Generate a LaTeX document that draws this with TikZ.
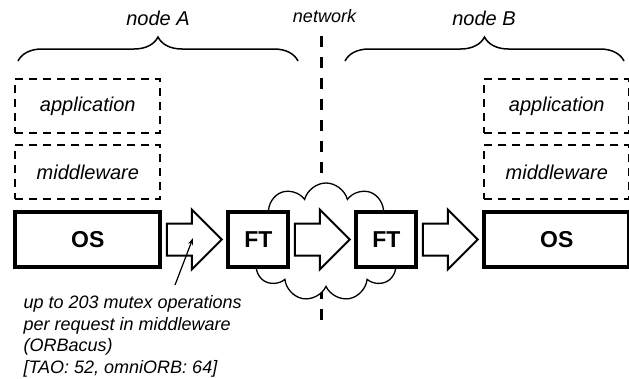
\documentclass[tikz,border=0pt]{standalone}
\usepackage{fontspec}
\setmainfont{Liberation Sans}
\usepackage{tikz}
\usetikzlibrary{positioning, arrows.meta, shapes, decorations.pathreplacing}
\tikzstyle{layerbox} = [draw, dash pattern=on 8pt off 6pt, line width=2pt, rectangle, outer sep=0pt, minimum width=145pt, minimum height=54pt, font=\fontsize{20}{24}\selectfont\itshape]
\tikzstyle{osbox} = [draw, line width=4pt, rectangle, fill=white, outer sep=0pt, minimum width=145pt, minimum height=55pt, font=\fontsize{23}{27}\selectfont\bfseries]
\tikzstyle{ftbox} = [osbox, minimum width=60pt]
\tikzstyle{blockarrow} = [single arrow, draw, line width=2pt, fill=white, outer sep=0pt, inner xsep=0pt, inner ysep=15pt, minimum width=30pt, minimum height=55pt, single arrow head extend=14pt, single arrow tip angle=90]
\tikzstyle{bracket} = [decorate, decoration={brace, amplitude=24pt}, line width=1.5pt]
\tikzstyle{toplabel} = [anchor=base, font=\fontsize{20}{24}\selectfont\itshape]

\begin{document}
\begin{tikzpicture}[x=1pt, y=-1pt]
      \useasboundingbox (0,0) rectangle (629,378);
      % network between the two nodes
      \coordinate (nettop) at (321.7,36);
      \coordinate (netbot) at (321.7,323);
      \draw[line width=3pt, dash pattern=on 10.5pt off 10.5pt] (nettop) -- (netbot);
      \node[cloud, cloud puffs=11, cloud ignores aspect, draw, fill=white, line width=1.3pt, minimum width=165pt, minimum height=118pt] (net) at (326,242) {};
      \node[toplabel, font=\fontsize{18}{22}\selectfont\itshape] (netlabel) at (324.5,22.5) {network};

      % node A
      \node[osbox] (osA) at (87.8,239.5) {OS};
      \node[layerbox, above=13pt of osA] (mwA) {middleware};
      \node[layerbox, above=12pt of mwA] (appA) {application};

      \node[blockarrow, right=6.5pt of osA, anchor=tail] (arrA) {};
      \node[ftbox, right=6.5pt of arrA.tip] (ftA) {FT};
      \node[blockarrow, right=6.5pt of ftA, anchor=tail] (arrB) {};
      \node[ftbox, right=6.5pt of arrB.tip] (ftB) {FT};
      \node[blockarrow, right=6.5pt of ftB, anchor=tail] (arrC) {};

      % node B
      \node[osbox, right=6.5pt of arrC.tip] (osB) {OS};
      \node[layerbox, above=13pt of osB] (mwB) {middleware};
      \node[layerbox, above=12pt of mwB] (appB) {application};

      \coordinate (braceAl) at (18,61);
      \coordinate (braceAr) at (298,61);
      \coordinate (braceBl) at (345,61);
      \coordinate (braceBr) at (624,61);
      \draw[bracket] (braceAl) -- (braceAr);
      \draw[bracket] (braceBl) -- (braceBr);
      \node[toplabel] (nodeA) at (158,25) {node A};
      \node[toplabel] (nodeB) at (484,25) {node B};

      \node[anchor=base west, align=left, font=\fontsize{18}{21.5}\selectfont\itshape] (note) at (20,373) {up to 203 mutex operations\\per request in middleware\\(ORBacus)\\{}[TAO: 52, omniORB: 64]};
      \coordinate (mutextail) at (175,285);
      \coordinate (mutexhead) at (193,238);
      \draw[line width=1.2pt, -{Stealth[length=7pt, width=5pt]}] (mutextail) -- (mutexhead);
      % \node[draw] at (arrA.tip) {};
\end{tikzpicture}
\end{document}
